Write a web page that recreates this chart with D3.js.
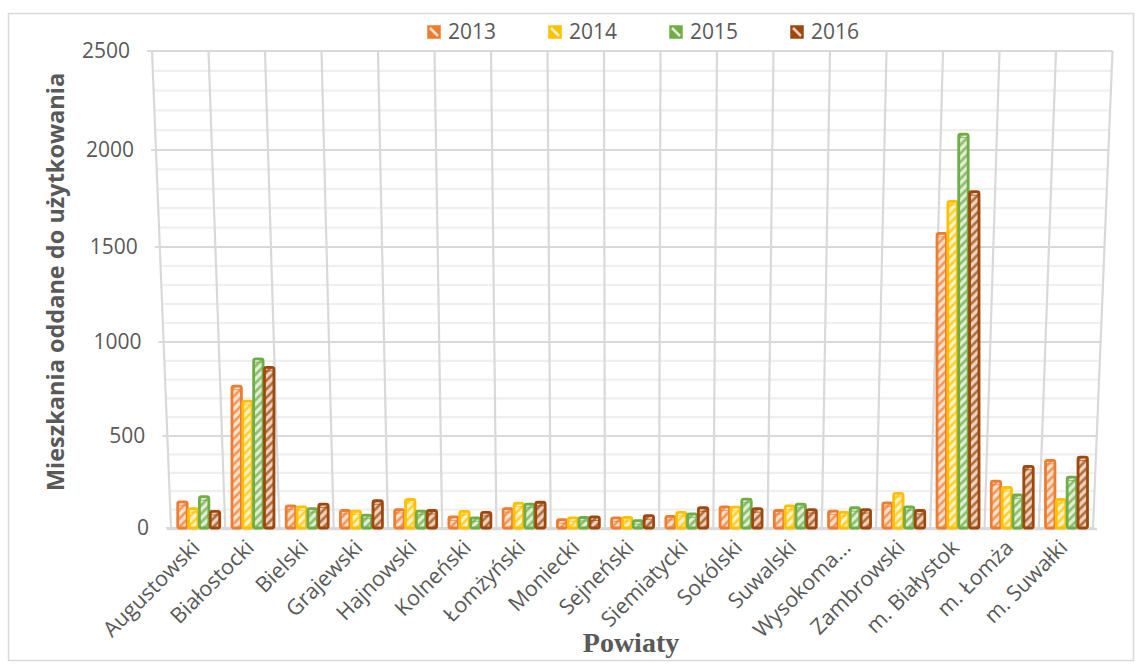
<!DOCTYPE html>
<html>
<head>
<meta charset="utf-8">
<script src="https://cdn.jsdelivr.net/npm/d3@7"></script>
<style>
  body { margin: 0; background: #fff; }
  text { font-family: "Open Sans", sans-serif; fill: #595959; }
</style>
</head>
<body>
<div id="chart"></div>
<script>
// data
const categories = ["Augustowski", "Białostocki", "Bielski", "Grajewski", "Hajnowski", "Kolneński",
  "Łomżyński", "Moniecki", "Sejneński", "Siemiatycki", "Sokólski", "Suwalski", "Wysokoma...",
  "Zambrowski", "m. Białystok", "m. Łomża", "m. Suwałki"];
const years = ["2013", "2014", "2015", "2016"];
const v2013 = [142, 765, 120, 95, 100, 60, 105, 45, 55, 63, 115, 95, 92, 137, 1570, 255, 368];
const v2014 = [105, 685, 115, 92, 155, 90, 135, 55, 57, 85, 113, 120, 85, 188, 1735, 220, 155];
const v2015 = [170, 910, 105, 70, 92, 55, 130, 57, 40, 77, 157, 130, 110, 115, 2080, 180, 277];
const v2016 = [90, 865, 130, 148, 95, 85, 140, 60, 67, 110, 105, 100, 100, 95, 1785, 335, 385];
const yTicks = [0, 500, 1000, 1500, 2000, 2500];

const series = [v2013, v2014, v2015, v2016];
const colors = ["#ED7D31", "#FFC000", "#70AD47", "#9E480E"];
const tints = ["#fbe2d0", "#fff3c7", "#e0eed6", "#ecd3c0"];

const W = 1141, H = 668;
// back wall corners (perspective trapezoid)
const wall = {top: 51, bottom: 528, lt: 152, rt: 1112.5, lb: 171, rb: 1093};

const svg = d3.select("#chart").append("svg")
  .attr("width", W).attr("height", H);

// value -> y on the wall (slightly non-linear because of the perspective)
const y = d3.scaleLinear()
  .domain(yTicks)
  .range([528, 436, 342, 247, 150, 51]);

const xBottom = d3.scaleBand().domain(categories).range([wall.lb, wall.rb])
  .paddingInner(0.2).paddingOuter(0.1);
const xSub = d3.scaleBand().domain(years).range([0, xBottom.bandwidth()]);

function edgeAt(py) {
  let t = (wall.bottom - py) / (wall.bottom - wall.top);
  return [wall.lb + (wall.lt - wall.lb) * t, wall.rb + (wall.rt - wall.rb) * t];
}

// outer frame
svg.append("rect")
  .attr("x", 8.5).attr("y", 13.5).attr("width", 1125).attr("height", 647)
  .attr("fill", "none").attr("stroke", "#d9d9d9").attr("stroke-width", 1.5);

// hatch patterns
const defs = svg.append("defs");
colors.forEach((c, i) => {
  let p = defs.append("pattern")
    .attr("id", "hatch" + i)
    .attr("patternUnits", "userSpaceOnUse")
    .attr("width", 6).attr("height", 6)
    .attr("patternTransform", "rotate(45)");
  p.append("rect").attr("width", 6).attr("height", 6).attr("fill", tints[i]);
  p.append("line").attr("x1", 1.5).attr("x2", 1.5).attr("y1", 0).attr("y2", 6)
    .attr("stroke", c).attr("stroke-width", 2.4).attr("stroke-opacity", 0.8);
});

// wall gridlines: minor every 100, major every 500
const grid = svg.append("g");
d3.range(0, 2501, 100).forEach((v) => {
  let py = y(v);
  let [xl, xr] = edgeAt(py);
  let major = v % 500 === 0;
  grid.append("line")
    .attr("x1", major ? xl - 5 : xl).attr("x2", xr)
    .attr("y1", py).attr("y2", py)
    .attr("stroke", major ? "#d9d9d9" : "#efefef")
    .attr("stroke-width", 2.2);
});
d3.range(categories.length + 1).forEach((i) => {
  let xt = wall.lt + (wall.rt - wall.lt) * i / categories.length;
  let xb = wall.lb + (wall.rb - wall.lb) * i / categories.length;
  grid.append("line")
    .attr("x1", xt).attr("y1", wall.top)
    .attr("x2", xb).attr("y2", wall.bottom)
    .attr("stroke", "#d9d9d9").attr("stroke-width", 2.2);
});
// floor edge
grid.append("line")
  .attr("x1", wall.lb - 4).attr("x2", wall.rb + 4)
  .attr("y1", wall.bottom + 1).attr("y2", wall.bottom + 1)
  .attr("stroke", "#d9d9d9").attr("stroke-width", 2.5);

// y tick labels follow the slanted left edge
svg.append("g").selectAll("text")
  .data(yTicks)
  .join("text")
  .attr("x", (d) => edgeAt(y(d))[0] - 22)
  .attr("y", (d) => y(d))
  .attr("dy", "0.35em")
  .attr("text-anchor", "end")
  .attr("font-size", 21)
  .text((d) => d);

// bars
const bars = svg.append("g");
series.forEach((vals, s) => {
  let g = bars.append("g");
  vals.forEach((v, i) => {
    let bx = xBottom(categories[i]) + xSub(years[s]) + 1.3;
    let bw = xSub.bandwidth() - 1.4;
    let top = y(v);
    g.append("rect")
      .attr("x", bx).attr("y", top)
      .attr("width", bw).attr("height", y(0) - top)
      .attr("rx", 2)
      .attr("fill", "url(#hatch" + s + ")")
      .attr("stroke", colors[s]).attr("stroke-width", 2.8);
    // thin top face
    g.append("line")
      .attr("x1", bx + 1).attr("x2", bx + bw - 1)
      .attr("y1", top + 3.5).attr("y2", top + 3.5)
      .attr("stroke", colors[s]).attr("stroke-width", 1).attr("stroke-opacity", 0.7);
  });
});

// category labels
svg.append("g").selectAll("text")
  .data(categories)
  .join("text")
  .attr("transform", (d) => `translate(${xBottom(d) + xBottom.bandwidth() / 2 + 3},${549}) rotate(-45)`)
  .attr("text-anchor", "end")
  .attr("font-size", 21.5)
  .text((d) => d);

// legend
const legend = svg.append("g");
years.forEach((yr, i) => {
  let lx = 427 + i * 121;
  legend.append("rect")
    .attr("x", lx + 1).attr("y", 26).attr("width", 12).attr("height", 12)
    .attr("fill", colors[i]).attr("stroke", colors[i]).attr("stroke-width", 1.5);
  legend.append("line")
    .attr("x1", lx + 3).attr("y1", 28).attr("x2", lx + 11).attr("y2", 36)
    .attr("stroke", tints[i]).attr("stroke-width", 2.5);
  legend.append("text")
    .attr("x", lx + 21).attr("y", 32)
    .attr("dy", "0.35em")
    .attr("font-size", 21)
    .text(yr);
});

// axis titles
svg.append("text")
  .attr("transform", "translate(64,282) rotate(-90)")
  .attr("text-anchor", "middle")
  .attr("font-size", 23.5)
  .attr("font-weight", "bold")
  .text("Mieszkania oddane do użytkowania");

svg.append("text")
  .attr("x", 631).attr("y", 652)
  .attr("text-anchor", "middle")
  .style("font-family", "'Liberation Serif', serif")
  .attr("font-size", 28)
  .attr("font-weight", "bold")
  .text("Powiaty");
</script>
</body>
</html>
